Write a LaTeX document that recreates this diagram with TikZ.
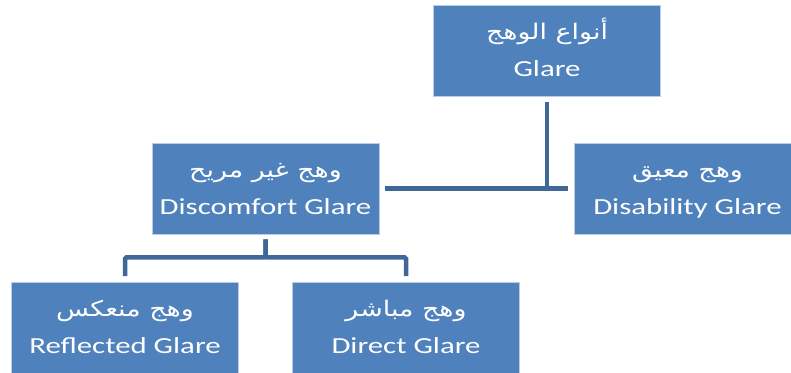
\documentclass[tikz,border=0pt]{standalone}
\usepackage{fontspec}
\setmainfont{Carlito}[FakeStretch=1.34]
\newfontfamily\arabicfont[Script=Arabic, FakeStretch=1.25]{DejaVu Sans}
\TeXXeTstate=1
\usetikzlibrary{positioning}
\definecolor{boxblue}{HTML}{4F81BD}
\definecolor{boxline}{HTML}{B9CDE5}
\definecolor{linkblue}{HTML}{3F6899}
\newcommand{\artext}[1]{{\arabicfont\fontsize{21.5}{37}\selectfont\beginR #1\endR}}

\begin{document}
\begin{tikzpicture}[
        x=1pt, y=-1pt,
        box/.style={rectangle, draw=boxline, line width=0.8pt, fill=boxblue, text=white,
            minimum width=227pt, minimum height=91pt, inner sep=0pt, align=center,
            font=\fontsize{23}{37}\selectfont},
        link/.style={draw=linkblue, line width=4.5pt, rounded corners=1.5pt}
    ]
        \fill [white] (0,0) rectangle (791,372);
        \useasboundingbox (0,0) rectangle (791,372);

        \node (glare) [box] at (547,51) {\artext{أنواع الوهج}\strut\\Glare\strut};
        \node (discomfort) [box] at (265.5,188.5) {\artext{وهج غير مريح}\strut\\Discomfort Glare\strut};
        \node (disability) [box] at (687.5,188.5) {\artext{وهج معيق}\strut\\Disability Glare\strut};
        \node (reflected) [box] at (125,328) {\artext{وهج منعكس}\strut\\Reflected Glare\strut};
        \node (direct) [box] at (406,328) {\artext{وهج مباشر}\strut\\Direct Glare\strut};

        \draw [link, shorten <=5pt] (glare.south) -- ++(0,91);
        \draw [link, shorten <=6pt, shorten >=6pt] (discomfort.east) -- (disability.west);
        \draw [link, shorten <=5pt, shorten >=6pt] (discomfort.south) -- ++(0,23) -| (reflected.north);
        \draw [link, shorten <=5pt, shorten >=6pt] (discomfort.south) -- ++(0,23) -| (direct.north);
\end{tikzpicture}
\end{document}
